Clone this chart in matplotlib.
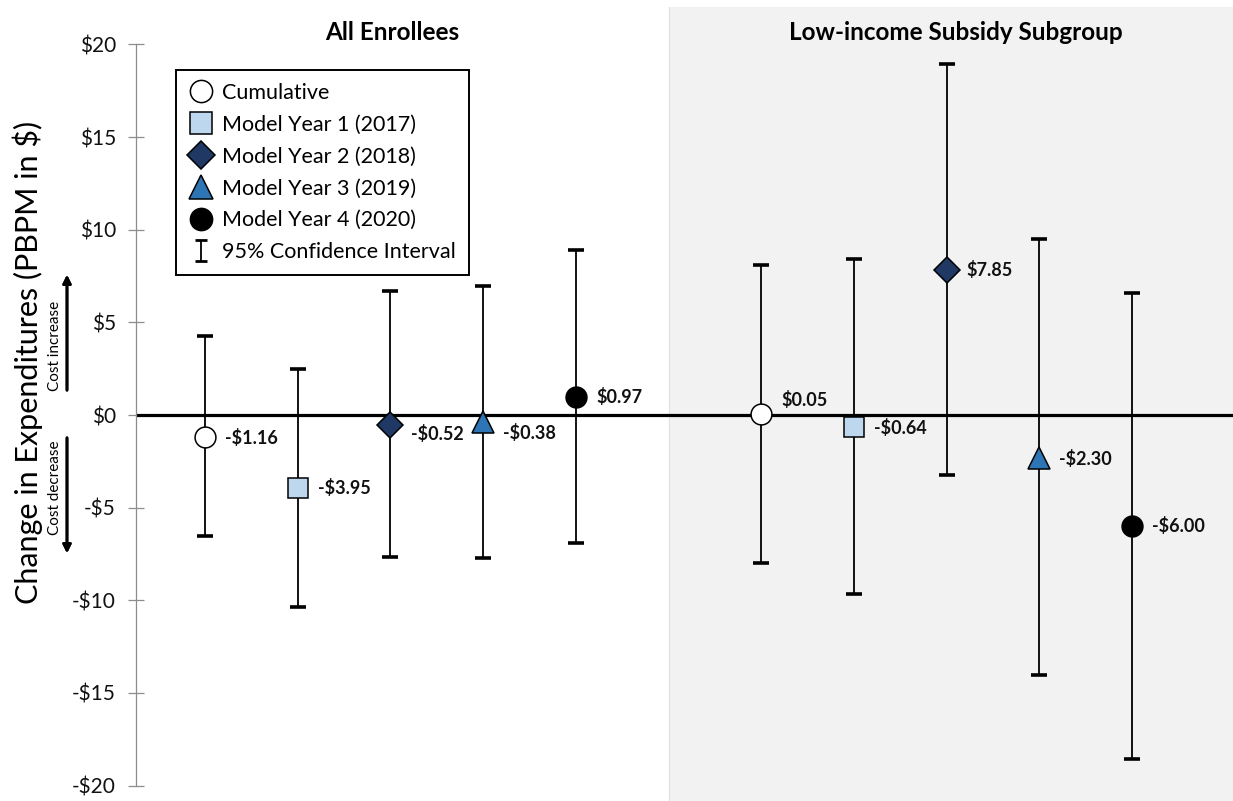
import numpy as np
import matplotlib
matplotlib.use("Agg")
import matplotlib.pyplot as plt
from matplotlib.lines import Line2D
from matplotlib.ticker import FuncFormatter

plt.rcParams['font.family'] = ['Lato', 'DejaVu Sans']

# Estimates and 95% CI bounds, PBPM change in dollars
groups = ["All Enrollees", "Low-income Subsidy Subgroup"]
series = ["Cumulative", "Model Year 1 (2017)", "Model Year 2 (2018)",
          "Model Year 3 (2019)", "Model Year 4 (2020)"]

all_est = [-1.16, -3.95, -0.52, -0.38, 0.97]
all_lo = [-6.53, -10.35, -7.68, -7.73, -6.89]
all_hi = [4.28, 2.48, 6.69, 6.98, 8.89]

lis_est = [0.05, -0.64, 7.85, -2.30, -6.00]
lis_lo = [-7.99, -9.64, -3.26, -14.03, -18.55]
lis_hi = [8.08, 8.40, 18.96, 9.50, 6.60]

y_ticks = [-20, -15, -10, -5, 0, 5, 10, 15, 20]

# marker styling per series
markers = ['o', 's', 'D', '^', 'o']
sizes = [15, 15, 13, 16, 15]
fills = ['white', '#BDD7EE', '#1F3864', '#2E75B6', 'black']
# vertical nudge (points) of the value labels, all enrollees then LIS
label_dy = [[-1, 0, -7, -8, 0], [10, -1, 0, -1, 0]]


def money(v, pos=None):
    return f"-${abs(v):.0f}" if v < 0 else f"${v:.0f}"


def money2(v):
    return f"-${abs(v):.2f}" if v < 0 else f"${v:.2f}"


W, H = 1233, 801
fig = plt.figure(figsize=(W / 100, H / 100), dpi=100)
ax = fig.add_axes([136 / W, 0, 1 - 136 / W, 1 - 7 / H])

# shaded panel for the LIS subgroup
ax.axvspan(5, 12, color='#F2F2F2', zorder=0)
ax.axvline(5, color='#E2E2E2', lw=0.8, zorder=0.5)
ax.axhline(0, color='black', lw=2.3, zorder=2)

for g, (est, lo, hi) in enumerate([(all_est, all_lo, all_hi),
                                   (lis_est, lis_lo, lis_hi)]):
    for i in range(len(series)):
        x = g * 6 + i
        ax.errorbar([x], [est[i]], yerr=[[est[i] - lo[i]], [hi[i] - est[i]]],
                    fmt='none', ecolor='black', elinewidth=1.3,
                    capsize=5.5, capthick=2.6, zorder=3)
        ax.plot([x], [est[i]], marker=markers[i], ms=sizes[i],
                mfc=fills[i], mec='black', mew=1.1, ls='none', zorder=4)
        ax.annotate(money2(est[i]), (x, est[i]), xytext=(14.5, label_dy[g][i]),
                    textcoords='offset points', ha='left', va='center',
                    fontsize=13, fontweight='bold', color='#111111', zorder=5)

ax.set_xlim(-0.745, 11.09)
ax.set_ylim(-20.83, 22.02)
ax.set_yticks(y_ticks)
ax.yaxis.set_major_formatter(FuncFormatter(money))
ax.set_xticks([])
for s in ['top', 'right', 'bottom']:
    ax.spines[s].set_visible(False)
ax.spines['left'].set_bounds(-20, 20)
ax.spines['left'].set_color('#8C8C8C')
ax.spines['left'].set_linewidth(0.9)
ax.tick_params(axis='y', direction='inout', length=11, width=0.9,
               color='#8C8C8C', labelsize=15, labelcolor='#111111', pad=9)

# panel titles
fig.text(392 / W, 1 - 33 / H, groups[0], ha='center', va='center',
         fontsize=17.5, fontweight='bold')
fig.text(956 / W, 1 - 33 / H, groups[1], ha='center', va='center',
         fontsize=17.5, fontweight='bold')

fig.text(28 / W, 1 - 362 / H, "Change in Expenditures (PBPM in $)",
         rotation=90, ha='center', va='center', fontsize=22)

# direction hints beside the axis
fig.text(55 / W, 1 - 346 / H, "Cost increase", rotation=90,
         ha='center', va='center', fontsize=11)
fig.text(55 / W, 1 - 488 / H, "Cost decrease", rotation=90,
         ha='center', va='center', fontsize=11)
arrow = dict(arrowstyle='-|>', color='black', lw=2, mutation_scale=12)
fig.add_artist(plt.annotate("", xy=(67 / W, 1 - 272 / H), xytext=(67 / W, 1 - 393 / H),
                            xycoords='figure fraction', arrowprops=arrow))
fig.add_artist(plt.annotate("", xy=(67 / W, 1 - 556 / H), xytext=(67 / W, 1 - 435 / H),
                            xycoords='figure fraction', arrowprops=arrow))

# legend
handles = [Line2D([], [], marker=markers[i], ms=sizes[i] + 1, mfc=fills[i],
                  mec='black', mew=1.1, ls='none') for i in range(len(series))]
ci = ax.errorbar([np.nan], [np.nan], yerr=[[1], [1]], fmt='none', ecolor='black',
                 elinewidth=1.3, capsize=4, capthick=2)
handles.append(ci)
labels = series + ["95% Confidence Interval"]
leg = ax.legend(handles, labels, loc='upper left',
                bbox_to_anchor=(176 / W, 1 - 70 / H),
                bbox_transform=fig.transFigure, borderaxespad=0,
                fontsize=15.5, frameon=True, fancybox=False, framealpha=1,
                edgecolor='black', handlelength=1.1, handletextpad=0.45,
                labelspacing=0.55, borderpad=0.6)
leg.get_frame().set_linewidth(1.4)

fig.savefig("out.png", dpi=100)
